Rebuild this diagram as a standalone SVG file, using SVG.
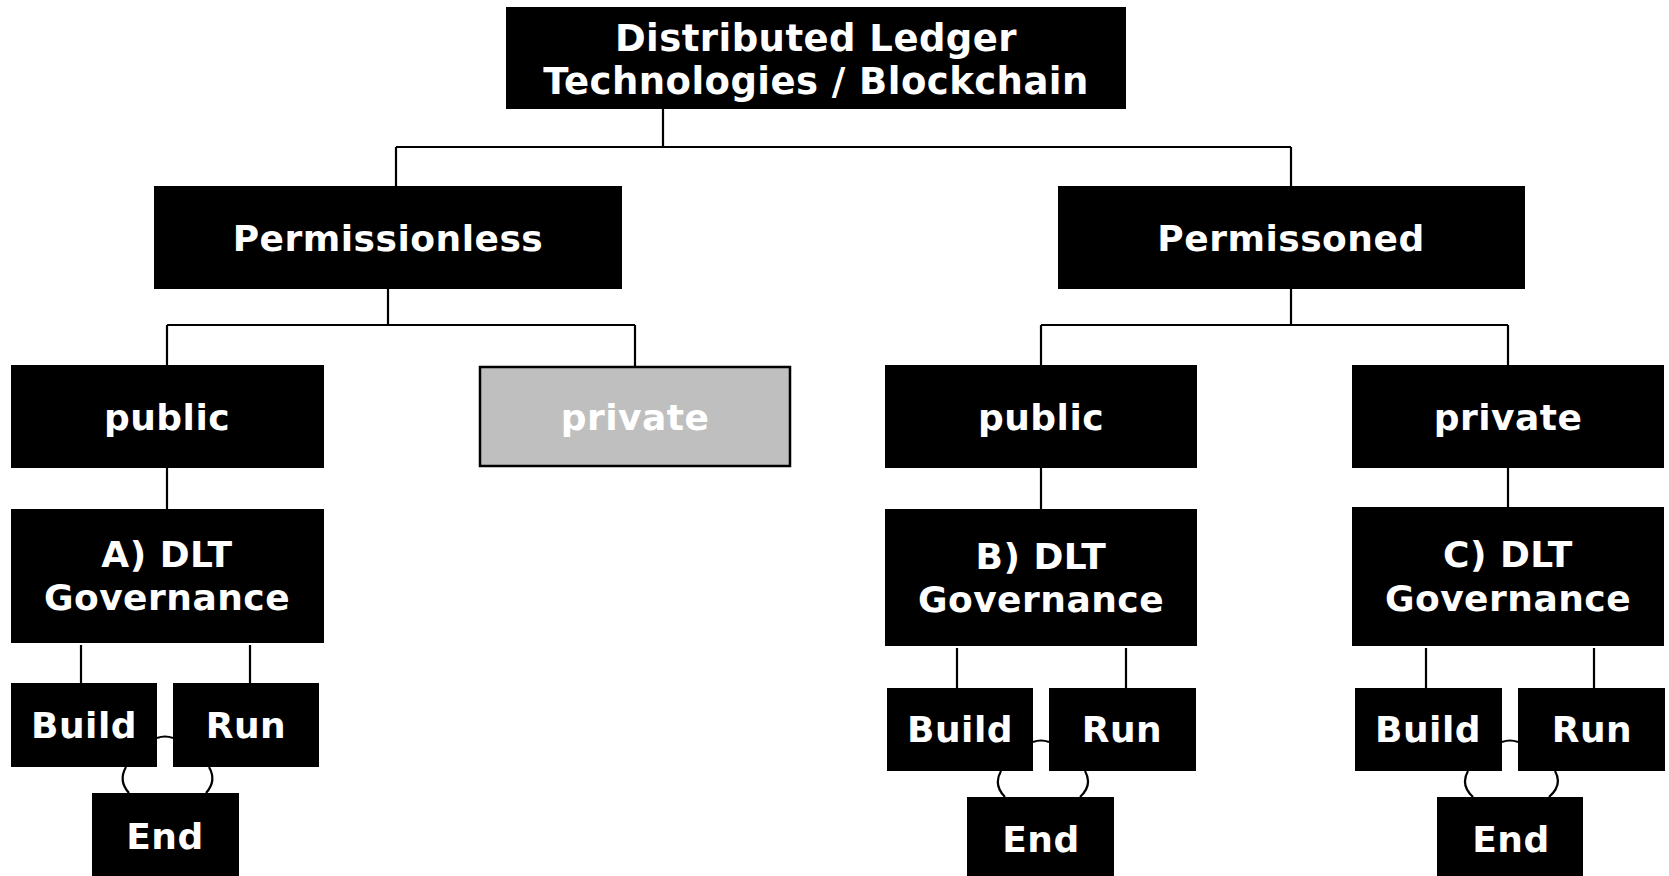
<svg xmlns="http://www.w3.org/2000/svg" width="1669" height="876" viewBox="0 0 1669 876">
<style>
.box{fill:#000;stroke:none}
.grey{fill:#bfbfbf;stroke:#000;stroke-width:2.5}
text{font-family:"DejaVu Sans","Liberation Sans",sans-serif;font-weight:bold;fill:#fff;text-anchor:middle;font-size:36px;letter-spacing:0.5px}
.title{font-size:37px;letter-spacing:0.45px}
.c{fill:none;stroke:#000;stroke-width:2.2}
</style>
<rect width="1669" height="876" fill="#fff"/>
<g id="connectors">
<path class="c" d="M663,109V147M396,147H1291M396,147V186M1291,147V186"/>
<path class="c" d="M388,289V325M167,325H635M167,325V365M635,325V366"/>
<path class="c" d="M1291,289V325M1041,325H1508M1041,325V365M1508,325V365"/>
<path class="c" d="M167,468V509M1041,468V509M1508,468V507"/>
<path class="c" d="M81,645V683M250,645V683M957,648V688M1126,648V688M1426,648V688M1594,648V688"/>
<path class="c" d="M157,738Q165,735 173,738M1033,742Q1041,739 1049,742M1502,742Q1510,739 1518,742"/>
<path class="c" d="M126,767Q118,781 129,793M209,767Q217,781 206,793"/>
<path class="c" d="M1001,771Q993,785 1005,797M1085,771Q1093,785 1080,797"/>
<path class="c" d="M1468,771Q1460,785 1473,797M1555,771Q1563,785 1549,797"/>
</g>
<g id="root"><rect class="box" x="506" y="7" width="620" height="102"/><text class="title" x="816" y="51">Distributed Ledger</text><text class="title" x="816" y="94">Technologies / Blockchain</text></g>
<g id="permissionless"><rect class="box" x="154" y="186" width="468" height="103"/><text x="388" y="251">Permissionless</text></g>
<g id="permissioned"><rect class="box" x="1058" y="186" width="467" height="103"/><text x="1291" y="251">Permissoned</text></g>
<g id="public-a"><rect class="box" x="11" y="365" width="313" height="103"/><text x="167" y="430">public</text></g>
<g id="private-grey"><rect class="grey" x="480" y="367" width="310" height="99"/><text x="635" y="430">private</text></g>
<g id="public-b"><rect class="box" x="885" y="365" width="312" height="103"/><text x="1041" y="430">public</text></g>
<g id="private-c"><rect class="box" x="1352" y="365" width="312" height="103"/><text x="1508" y="430">private</text></g>
<g id="gov-a"><rect class="box" x="11" y="509" width="313" height="134"/><text x="167" y="567">A) DLT</text><text x="167" y="610">Governance</text></g>
<g id="gov-b"><rect class="box" x="885" y="509" width="312" height="137"/><text x="1041" y="569">B) DLT</text><text x="1041" y="612">Governance</text></g>
<g id="gov-c"><rect class="box" x="1352" y="507" width="312" height="139"/><text x="1508" y="567">C) DLT</text><text x="1508" y="611">Governance</text></g>
<g id="build-a"><rect class="box" x="11" y="683" width="146" height="84"/><text x="84" y="738">Build</text></g>
<g id="run-a"><rect class="box" x="173" y="683" width="146" height="84"/><text x="246" y="738">Run</text></g>
<g id="end-a"><rect class="box" x="92" y="793" width="147" height="90"/><text x="165" y="849">End</text></g>
<g id="build-b"><rect class="box" x="887" y="688" width="146" height="83"/><text x="960" y="742">Build</text></g>
<g id="run-b"><rect class="box" x="1049" y="688" width="147" height="83"/><text x="1122" y="742">Run</text></g>
<g id="end-b"><rect class="box" x="967" y="797" width="147" height="90"/><text x="1041" y="852">End</text></g>
<g id="build-c"><rect class="box" x="1355" y="688" width="147" height="83"/><text x="1428" y="742">Build</text></g>
<g id="run-c"><rect class="box" x="1518" y="688" width="147" height="83"/><text x="1592" y="742">Run</text></g>
<g id="end-c"><rect class="box" x="1437" y="797" width="146" height="90"/><text x="1511" y="852">End</text></g>
</svg>
